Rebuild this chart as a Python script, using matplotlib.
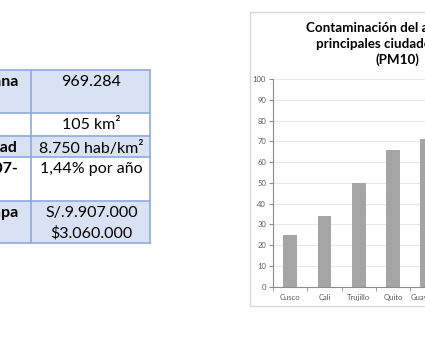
import matplotlib.pyplot as plt
from matplotlib.patches import Rectangle

# table (left, partly cut off)
etiquetas = ['Población urbana', 'Superficie', 'Densidad', 'Crecimiento 2007-', 'Presupuesto Etapa']
valores = ['969.284', '105 km²', '8.750 hab/km²', '1,44% por año', 'S/.9.907.000\n$3.060.000']

# chart (right, partly cut off)
ciudades = ['Cusco', 'Cali', 'Trujillo', 'Quito', 'Guayaquil']
pm10 = [25, 34, 50, 66, 71]
titulo = ['Contaminación del aire en las', 'principales ciudades de la región', '(PM10)']

W, H = 425, 340
fig = plt.figure(figsize=(4.25, 3.4), dpi=100)
plt.rcParams['font.family'] = ['Lato', 'DejaVu Sans']

bg = fig.add_axes([0, 0, 1, 1])
bg.set_xlim(0, W)
bg.set_ylim(H, 0)
bg.axis('off')

# table layout in pixels
filas = [70, 113, 136, 157, 201, 243]
relleno = ['#d9e2f3', 'white', '#d9e2f3', 'white', '#d9e2f3']
borde = '#8eaadb'
col_x = 31
der_x = 150
for i, (lab, val) in enumerate(zip(etiquetas, valores)):
    top, bot = filas[i], filas[i + 1]
    bg.add_patch(Rectangle((-200, top), der_x + 200, bot - top, fc=relleno[i], ec='none'))
    if i != 1:
        bg.text(18, top + 5, lab, ha='right', va='top', fontsize=11.5, fontweight='bold', color='black')
    bg.text((col_x + der_x) / 2 + 1, top + 5, val, ha='center', va='top', fontsize=11.5,
            color='black', linespacing=1.5)
for y in filas:
    bg.plot([-10, der_x], [y, y], color=borde, lw=1.2)
for x in [col_x, der_x]:
    bg.plot([x, x], [filas[0], filas[-1]], color=borde, lw=1.2)

# chart frame and title
bg.add_patch(Rectangle((250, 12), 300, 294, fill=False, ec='#d9d9d9', lw=1))
for txt, x, y in zip(titulo, [306, 316, 376], [28, 44, 60]):
    bg.text(x, y, txt, ha='left', va='center', fontsize=9.6, fontweight='bold', color='black')

ax = fig.add_axes([273 / W, (H - 286.7) / H, 171.5 / W, (286.7 - 79) / H])
ax.bar(ciudades, pm10, width=0.4, color='#a5a5a5', zorder=2)
ax.set_xlim(-0.5, len(ciudades) - 0.5)
ax.set_ylim(0, 100)
ax.set_yticks(range(0, 101, 10))
ax.yaxis.grid(True, color='#e8e8e8', lw=0.8)
ax.set_axisbelow(True)
for s in ['top', 'right']:
    ax.spines[s].set_visible(False)
for s in ['left', 'bottom']:
    ax.spines[s].set_color('#8c8c8c')
    ax.spines[s].set_linewidth(0.8)
ax.tick_params(axis='y', length=3, color='#8c8c8c', labelsize=5.5, labelcolor='#595959', pad=2)
ax.tick_params(axis='x', which='major', length=0, labelsize=5.5, labelcolor='#595959', pad=5)
ax.set_xticks([i - 0.5 for i in range(len(ciudades) + 1)], minor=True)
ax.tick_params(axis='x', which='minor', length=3, color='#8c8c8c')

fig.savefig('out.png', dpi=100)
